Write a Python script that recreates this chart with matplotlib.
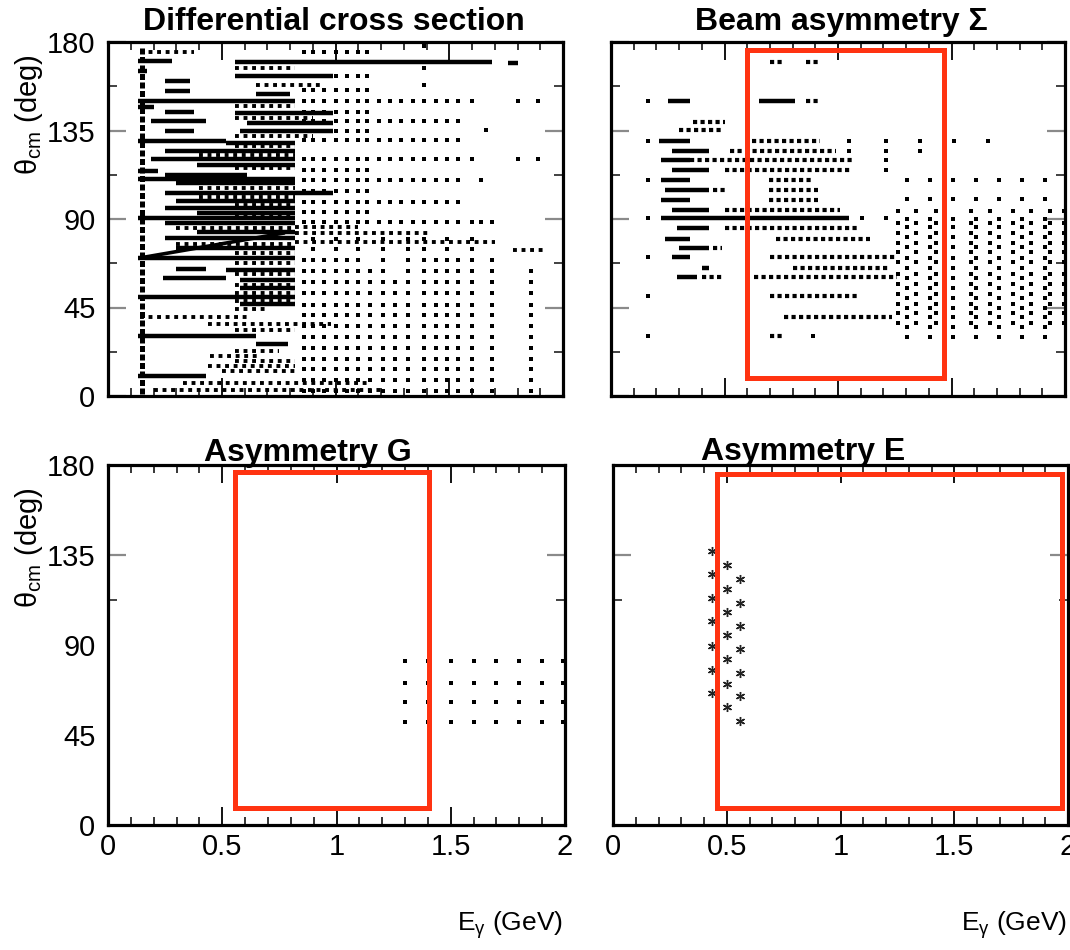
import numpy as np
import matplotlib
matplotlib.use("Agg")
import matplotlib.pyplot as plt
from matplotlib.patches import Rectangle
from matplotlib.ticker import MultipleLocator, FixedLocator

plt.rcParams['font.family'] = ['Liberation Sans', 'DejaVu Sans']
plt.rcParams['mathtext.fontset'] = 'custom'
plt.rcParams['mathtext.rm'] = 'Liberation Sans'
plt.rcParams['mathtext.it'] = 'Liberation Sans'

# ---------------- data (E in GeV, theta in deg) ----------------
# Differential cross section: dense horizontal runs (theta, E start, E end)
dcs_line_theta = [170.1, 169.8, 169.4, 165.5, 160.4, 162.5, 155.3, 153.6, 150.2, 147.0,
                  144.2, 143.7, 139.6, 138.6, 134.8, 134.5, 129.7, 128.8, 124.6, 120.3,
                  117.7, 114.3, 112.6, 110.1, 108.4, 103.2, 99.0, 95.6, 93.0, 90.4,
                  87.9, 83.6, 80.2, 75.1, 70.0, 64.8, 64.0, 60.1, 58.9, 54.9,
                  50.3, 46.9, 30.7, 26.4, 10.2]
dcs_line_e0 = [0.13, 0.56, 1.76, 0.13, 0.25, 0.56, 0.25, 0.65, 0.13, 0.13,
               0.25, 0.56, 0.19, 0.61, 0.25, 0.58, 0.13, 0.52, 0.25, 0.19,
               0.39, 0.13, 0.25, 0.13, 0.30, 0.25, 0.30, 0.25, 0.39, 0.13,
               0.25, 0.39, 0.25, 0.30, 0.13, 0.30, 0.52, 0.24, 0.58, 0.58,
               0.13, 0.58, 0.13, 0.65, 0.13]
dcs_line_e1 = [0.28, 1.69, 1.80, 0.17, 0.36, 0.99, 0.36, 0.80, 0.82, 0.20,
               0.38, 0.99, 0.43, 0.99, 0.38, 0.99, 0.52, 0.82, 0.82, 0.82,
               0.82, 0.22, 0.61, 0.82, 0.82, 0.99, 0.82, 0.82, 0.82, 0.82,
               0.82, 0.82, 0.82, 0.82, 0.82, 0.43, 0.82, 0.52, 0.82, 0.82,
               0.82, 0.82, 0.65, 0.79, 0.43]
# dotted runs
dcs_dot_theta = [174.9, 40.0, 36.7, 20.5, 15.4, 6.8, 3.0, 74.2, 78.5, 83.0, 86.0,
                 167.0, 158.0, 147.5, 141.5, 132.0, 127.0, 122.5, 116.0, 106.0, 101.0,
                 97.0, 92.0, 85.5, 77.5, 72.5, 67.5, 62.0, 56.5, 52.5, 48.5,
                 44.0, 33.5, 23.0, 18.0, 12.5]
dcs_dot_e0 = [0.14, 0.14, 0.44, 0.45, 0.44, 0.33, 0.20, 1.78, 0.82, 0.82, 0.82,
              0.56, 0.65, 0.56, 0.56, 0.56, 0.56, 0.40, 0.56, 0.40, 0.40,
              0.56, 0.56, 0.30, 0.30, 0.56, 0.56, 0.56, 0.56, 0.56, 0.56,
              0.56, 0.56, 0.56, 0.56, 0.50]
dcs_dot_e1 = [0.38, 0.62, 0.98, 0.66, 0.82, 1.15, 1.20, 1.92, 1.70, 1.42, 1.10,
              0.82, 0.95, 0.82, 0.90, 0.90, 0.82, 0.82, 0.82, 0.82, 0.82,
              0.82, 0.82, 0.82, 0.82, 0.82, 0.82, 0.82, 0.82, 0.82, 0.82,
              0.70, 0.82, 0.75, 0.82, 0.82]
# vertical dense stack at the lowest energy (E, theta low, theta high)
dcs_vert_e = [0.15]
dcs_vert_t0 = [1.0]
dcs_vert_t1 = [178.0]
# diagonal band
dcs_diag_e = [0.17, 0.77]
dcs_diag_t = [70.8, 82.8]
# upper angular rows measured at fixed beam energies
dcs_col_e = [0.86, 0.90, 0.95, 1.00, 1.05, 1.10, 1.14, 1.19, 1.24, 1.29,
             1.34, 1.39, 1.44, 1.49, 1.54, 1.60, 1.64, 1.69]
dcs_row_theta = [175.0, 162.5, 155.5, 150.0, 144.5, 140.0, 135.0, 130.0, 120.5,
                 115.0, 110.0, 104.0, 98.6, 93.5, 88.5]
dcs_row_emax = [1.15, 1.15, 1.15, 1.61, 1.15, 1.54, 1.15, 1.54, 1.61,
                1.15, 1.54, 1.15, 1.54, 1.15, 1.70]
dcs_far_e = [1.80, 1.89, 1.80, 1.89, 1.66, 1.64, 1.39, 1.39, 1.39]
dcs_far_theta = [150.0, 150.0, 120.5, 120.5, 135.5, 110.0, 178.0, 167.0, 158.0]
# lower angular columns
dcs_low_theta = [80.0, 74.5, 69.0, 63.5, 58.0, 52.5, 46.5, 41.0, 35.5, 30.0,
                 24.5, 19.0, 13.5, 8.0, 2.5]
dcs_low_e = [0.86, 0.90, 0.95, 1.00, 1.05, 1.10, 1.15, 1.21, 1.26, 1.32,
             1.39, 1.44, 1.49, 1.54, 1.60, 1.69, 1.86]
dcs_low_tmax = [70, 80, 70, 80, 70, 80, 65, 80, 60, 80, 80, 70, 80, 70, 80, 70, 68]

# Beam asymmetry Sigma
sig_line_theta = [150.0, 150.0, 129.8, 124.7, 120.0, 114.8, 109.7, 104.6, 99.5, 94.4,
                  90.3, 85.2, 80.0, 75.3, 70.5, 65.0, 60.3]
sig_line_e0 = [0.25, 0.65, 0.21, 0.27, 0.22, 0.27, 0.22, 0.24, 0.22, 0.27,
               0.22, 0.29, 0.24, 0.30, 0.27, 0.40, 0.29]
sig_line_e1 = [0.35, 0.81, 0.35, 0.43, 0.35, 0.43, 0.35, 0.43, 0.35, 0.43,
               1.05, 0.43, 0.35, 0.43, 0.35, 0.43, 0.38]
sig_dot_theta = [169.8, 169.8, 150.0, 139.5, 135.3, 129.8, 124.7, 120.0, 114.8, 109.7,
                 104.6, 104.6, 99.5, 94.4, 85.2, 80.0, 75.3, 70.5, 65.0, 60.3,
                 60.3, 50.6, 40.4, 30.5]
sig_dot_e0 = [0.70, 0.86, 0.86, 0.36, 0.30, 0.62, 0.525, 0.35, 0.50, 0.695,
              0.45, 0.695, 0.695, 0.50, 0.50, 0.725, 0.45, 0.70, 0.80, 0.40,
              0.63, 0.70, 0.76, 0.70]
sig_dot_e1 = [0.76, 0.92, 0.92, 0.50, 0.49, 0.92, 0.99, 1.06, 1.06, 0.895,
              0.50, 0.91, 0.91, 1.01, 1.09, 1.14, 0.49, 1.26, 1.23, 0.49,
              1.26, 1.09, 1.24, 0.76]
sig_single_e = [0.163, 0.163, 0.163, 0.163, 0.163, 0.163, 0.163,
                1.05, 1.05, 1.21, 1.21, 1.21, 1.21, 1.36, 1.36, 1.51, 1.66,
                1.107, 1.21, 0.89]
sig_single_theta = [150.0, 129.8, 109.7, 90.3, 70.5, 50.6, 30.5,
                    129.8, 124.7, 129.8, 124.7, 120.0, 114.8, 129.8, 124.7, 129.8, 129.8,
                    90.3, 90.3, 30.5]
sig_full_e = [1.305, 1.405, 1.505, 1.61, 1.71, 1.81, 1.91]
sig_full_theta = [110, 100, 90, 86, 81, 76, 70, 65, 60, 55, 50, 45, 40, 35, 30]
sig_mid_e = [1.265, 1.345, 1.43, 1.585, 1.67, 1.77, 1.85, 1.935, 1.995]
sig_mid_theta = [94, 88, 83, 78, 73, 68, 62, 57, 52, 47, 42, 37]

# Asymmetry G
g_energy = [1.30, 1.40, 1.50, 1.60, 1.70, 1.80, 1.90, 1.99]
g_theta = [82.0, 71.0, 61.5, 51.5]

# Asymmetry E
e_energy = [0.437, 0.437, 0.437, 0.437, 0.437, 0.437, 0.437,
            0.50, 0.50, 0.50, 0.50, 0.50, 0.50, 0.50,
            0.558, 0.558, 0.558, 0.558, 0.558, 0.558, 0.558]
e_theta = [137.2, 125.3, 113.7, 101.9, 89.5, 77.6, 66.0,
           129.9, 118.1, 106.5, 94.9, 83.0, 70.7, 58.8,
           123.1, 111.1, 99.5, 87.8, 76.2, 64.4, 52.0]

# planned (red) kinematic coverage: E0, E1, theta0, theta1
box_sigma = [0.60, 1.465, 9.0, 176.0]
box_g = [0.555, 1.405, 8.6, 176.6]
box_e = [0.455, 1.975, 8.5, 175.6]

titles = ["Differential cross section", "Beam asymmetry \u03a3", "Asymmetry G", "Asymmetry E"]
x_ticks = [0, 0.5, 1, 1.5, 2]
x_ticklabels = ["0", "0.5", "1", "1.5", "2"]
y_ticks = [0, 45, 90, 135, 180]
y_ticklabels = ["0", "45", "90", "135", "180"]

RED = '#ff3311'


def grid(energies, angles):
    ee, tt = np.meshgrid(energies, angles)
    return ee.ravel(), tt.ravel()


def style(ax, full_y=True, xlabels=False, ylabels=False):
    ax.set_xlim(0, 2)
    ax.set_ylim(0, 180)
    for s in ax.spines.values():
        s.set_linewidth(2.3)
    ax.set_xticks(x_ticks)
    ax.set_xticklabels(x_ticklabels)
    ax.xaxis.set_minor_locator(MultipleLocator(0.1))
    ax.set_yticks(y_ticks)
    ax.set_yticklabels(y_ticklabels)
    if full_y:
        ax.yaxis.set_minor_locator(FixedLocator([22.5, 67.5, 112.5, 157.5]))
    else:
        ax.yaxis.set_minor_locator(FixedLocator([112.5]))
    ax.tick_params(axis='x', which='major', direction='in', top=True, bottom=True,
                   length=13, width=1.3, labelsize=21, pad=6, labelbottom=xlabels)
    ax.tick_params(axis='x', which='minor', direction='in', top=True, bottom=True,
                   length=6, width=1.1)
    ax.tick_params(axis='y', which='major', direction='in', left=True, right=True,
                   length=13, width=1.6, color='#8a8a8a', labelsize=21, pad=9,
                   labelleft=ylabels)
    ax.tick_params(axis='y', which='minor', direction='in', left=True, right=True,
                   length=6.5, width=1.3, color='#333333')
    if not full_y:
        for tk, v in zip(ax.yaxis.get_major_ticks(), y_ticks):
            if v != 135:
                tk.tick1line.set_visible(False)
                tk.tick2line.set_visible(False)
            else:
                tk.tick1line.set_color('#444444')
                tk.tick2line.set_color('#444444')


def red_box(ax, box):
    ax.add_patch(Rectangle((box[0], box[2]), box[1] - box[0], box[3] - box[2],
                           fill=False, edgecolor=RED, linewidth=3.6, zorder=5))


fig = plt.figure(figsize=(10.7, 9.5), dpi=100)
W, H = 1070.0, 950.0


def add_ax(x0, y0, x1, y1):
    return fig.add_axes([x0 / W, 1 - y1 / H, (x1 - x0) / W, (y1 - y0) / H])


ax_dcs = add_ax(108, 42, 563, 396)
ax_sig = add_ax(611, 42, 1065, 396)
ax_g = add_ax(108, 465, 565, 825)
ax_e = add_ax(613, 465, 1068, 825)

# ---- differential cross section ----
ax = ax_dcs
ax.hlines(dcs_line_theta, dcs_line_e0, dcs_line_e1, colors='k', linewidth=3.2, zorder=3)
ax.hlines(dcs_dot_theta, dcs_dot_e0, dcs_dot_e1, colors='k', linewidth=2.8,
          linestyles=(0, (1.0, 1.2)), zorder=3)
ax.vlines(dcs_vert_e, dcs_vert_t0, dcs_vert_t1, colors='k', linewidth=3.6,
          linestyles=(0, (1.2, 0.5)), zorder=3)
ax.plot(dcs_diag_e, dcs_diag_t, color='k', linewidth=2.6, zorder=3)
ue, ut = [], []
for th, em in zip(dcs_row_theta, dcs_row_emax):
    for e in dcs_col_e:
        if e <= em:
            ue.append(e)
            ut.append(th)
ax.plot(ue, ut, 's', color='k', ms=3.0, mew=0, zorder=3)
ax.plot(dcs_far_e, dcs_far_theta, 's', color='k', ms=3.0, mew=0, zorder=3)
le, lt = [], []
for e, tm in zip(dcs_low_e, dcs_low_tmax):
    for th in dcs_low_theta:
        if th <= tm:
            le.append(e)
            lt.append(th)
ax.plot(le, lt, 's', color='k', ms=3.0, mew=0, zorder=3)
style(ax, full_y=True, xlabels=False, ylabels=True)

# ---- beam asymmetry ----
ax = ax_sig
ax.hlines(sig_line_theta, sig_line_e0, sig_line_e1, colors='k', linewidth=3.2, zorder=3)
ax.hlines(sig_dot_theta, sig_dot_e0, sig_dot_e1, colors='k', linewidth=3.0,
          linestyles=(0, (1.0, 0.8)), zorder=3)
ax.plot(sig_single_e, sig_single_theta, 's', color='k', ms=3.3, mew=0, zorder=3)
fe, ft = grid(sig_full_e, sig_full_theta)
ax.plot(fe, ft, 's', color='k', ms=3.1, mew=0, zorder=3)
me, mt = grid(sig_mid_e, sig_mid_theta)
ax.plot(me, mt, 's', color='k', ms=2.8, mew=0, zorder=3)
red_box(ax, box_sigma)
style(ax, full_y=True, xlabels=False, ylabels=False)

# ---- asymmetry G ----
ax = ax_g
ge, gt = grid(g_energy, g_theta)
ax.plot(ge, gt, 's', color='k', ms=3.4, mew=0, zorder=3)
red_box(ax, box_g)
style(ax, full_y=False, xlabels=True, ylabels=True)

# ---- asymmetry E ----
ax = ax_e
ax.plot(e_energy, e_theta, marker=(6, 2, 0), linestyle='none', color='#222222',
        ms=6.5, mew=1.0, zorder=3)
red_box(ax, box_e)
style(ax, full_y=False, xlabels=True, ylabels=False)

# titles
title_kw = dict(fontfamily='Liberation Sans', fontweight='bold', fontsize=23,
                ha='center', va='baseline')
fig.text(334 / W, 1 - 30 / H, titles[0], **title_kw)
fig.text(841 / W, 1 - 30 / H, titles[1], **title_kw)
fig.text(308 / W, 1 - 461 / H, titles[2], **title_kw)
fig.text(803 / W, 1 - 460 / H, titles[3], **title_kw)

# axis labels
for yc in (115, 548):
    fig.text(29 / W, 1 - yc / H, "\u03b8$_{\\rm cm}$ (deg)", rotation=90,
             ha='center', va='center', fontsize=21)
for xr in (563, 1067):
    fig.text(xr / W, 1 - 925 / H, "E$_{\\gamma}$ (GeV)", ha='right', va='center',
             fontsize=19)

fig.savefig("out.png", dpi=100)
